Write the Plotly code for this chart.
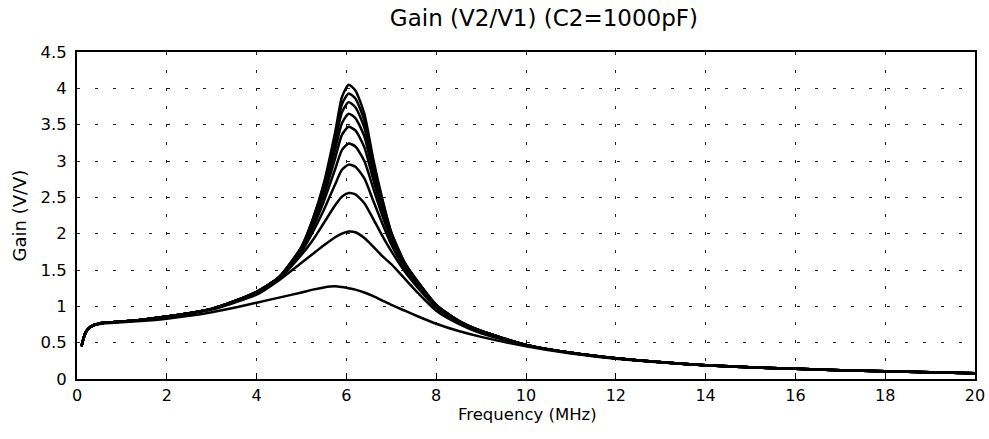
import plotly.graph_objects as go

freq = [0.1, 0.15, 0.2, 0.3, 0.5, 1, 1.5, 2, 2.5, 3, 3.5, 4, 4.5, 5, 5.25, 5.5, 5.75, 5.9,
        6.05, 6.2, 6.4, 6.6, 6.8, 7.0, 7.3, 7.6, 8, 8.5, 9, 10, 11, 12, 14, 16, 18, 20]

low_common = [0.45, 0.57, 0.65, 0.72, 0.765, 0.79, 0.82, 0.86, 0.905, 0.965]
tail_common = [0.47, 0.36, 0.285, 0.19, 0.14, 0.105, 0.08]

gain_127 = [0.45, 0.57, 0.65, 0.715, 0.755, 0.78, 0.80, 0.83, 0.87, 0.92,
            0.98, 1.05, 1.12, 1.19, 1.23, 1.26, 1.275, 1.265, 1.25, 1.23, 1.19, 1.14, 1.08, 1.02,
            0.94, 0.86, 0.76, 0.66, 0.58, 0.45, 0.35, 0.28, 0.19, 0.14, 0.105, 0.08]
gain_203 = [0.45, 0.57, 0.65, 0.72, 0.765, 0.79, 0.815, 0.855, 0.90, 0.955,
            1.05, 1.16, 1.36, 1.60, 1.72, 1.84, 1.95, 2.00, 2.03, 2.02, 1.94, 1.82, 1.69, 1.58,
            1.38, 1.18, 0.94, 0.76, 0.63, 0.465, 0.36, 0.285, 0.19, 0.14, 0.105, 0.08]
mid_256 = [1.06, 1.18, 1.38, 1.71, 1.91, 2.15, 2.39, 2.51, 2.56, 2.54, 2.42, 2.20, 1.97, 1.76, 1.48, 1.25, 0.98, 0.78, 0.64]
mid_295 = [1.06, 1.19, 1.39, 1.75, 2.02, 2.33, 2.68, 2.88, 2.95, 2.92, 2.76, 2.45, 2.14, 1.85, 1.52, 1.28, 0.99, 0.79, 0.65]
mid_324 = [1.06, 1.19, 1.39, 1.78, 2.08, 2.45, 2.89, 3.15, 3.24, 3.20, 3.00, 2.62, 2.25, 1.91, 1.55, 1.30, 1.00, 0.79, 0.65]
mid_347 = [1.07, 1.19, 1.40, 1.79, 2.12, 2.53, 3.04, 3.36, 3.47, 3.42, 3.19, 2.74, 2.32, 1.95, 1.57, 1.31, 1.01, 0.79, 0.66]
mid_365 = [1.07, 1.20, 1.40, 1.80, 2.15, 2.59, 3.16, 3.52, 3.65, 3.59, 3.34, 2.83, 2.38, 1.97, 1.58, 1.32, 1.01, 0.80, 0.66]
mid_381 = [1.07, 1.20, 1.40, 1.81, 2.17, 2.63, 3.26, 3.67, 3.81, 3.74, 3.46, 2.91, 2.42, 1.99, 1.59, 1.32, 1.02, 0.80, 0.66]
mid_393 = [1.07, 1.20, 1.40, 1.82, 2.19, 2.67, 3.33, 3.78, 3.93, 3.86, 3.56, 2.97, 2.45, 2.01, 1.59, 1.33, 1.02, 0.80, 0.66]
mid_405 = [1.07, 1.20, 1.40, 1.82, 2.20, 2.70, 3.40, 3.88, 4.05, 3.97, 3.65, 3.02, 2.48, 2.02, 1.60, 1.33, 1.02, 0.80, 0.66]

series = [gain_127, gain_203] + [low_common + m + tail_common for m in
                                 [mid_256, mid_295, mid_324, mid_347, mid_365, mid_381, mid_393, mid_405]]

x_ticks = [0, 2, 4, 6, 8, 10, 12, 14, 16, 18, 20]
y_ticks = [0, 0.5, 1, 1.5, 2, 2.5, 3, 3.5, 4, 4.5]
y_labels = ["0", "0.5", "1", "1.5", "2", "2.5", "3", "3.5", "4", "4.5"]

FONT = "DejaVu Sans, Arial, Helvetica, sans-serif"

fig = go.Figure()
for s in series:
    fig.add_trace(go.Scatter(x=freq, y=s, mode="lines",
                             line=dict(color="black", width=2.5, shape="spline", smoothing=0.6),
                             showlegend=False, hoverinfo="skip"))

fig.update_layout(
    width=989, height=439, autosize=False,
    margin=dict(l=77, r=14, t=52, b=60),
    paper_bgcolor="white", plot_bgcolor="white",
    font=dict(family=FONT, color="black", size=16),
    title=dict(text="Gain (V2/V1) (C2=1000pF)", x=0.52, xref="paper", xanchor="center",
               y=1 - 18 / 439, yref="container", yanchor="middle",
               font=dict(family=FONT, size=23, color="black")),
    xaxis=dict(range=[0, 20], tickvals=x_ticks, ticktext=[str(v) for v in x_ticks],
               showgrid=True, gridcolor="#222", gridwidth=1, griddash="3px,15px",
               showline=True, linecolor="black", linewidth=2, mirror=True,
               ticks="inside", ticklen=6, tickcolor="black", automargin=False,
               ticklabelstandoff=1, zeroline=False, tickfont=dict(size=16)),
    yaxis=dict(range=[0, 4.5], tickvals=y_ticks, ticktext=y_labels,
               showgrid=True, gridcolor="#222", gridwidth=1, griddash="3px,15px",
               showline=True, linecolor="black", linewidth=2, mirror=True, automargin=False,
               ticks="", ticklabelstandoff=5, zeroline=False, tickfont=dict(size=16.5)),
    annotations=[
        dict(text="Frequency (MHz)", xref="paper", yref="paper", x=0.502, y=-0.11,
             xanchor="center", yanchor="middle", showarrow=False,
             font=dict(family=FONT, size=16.5, color="black")),
        dict(text="Gain (V/V)", xref="paper", yref="paper", x=-0.0635, y=0.5,
             xanchor="center", yanchor="middle", showarrow=False, textangle=-90,
             font=dict(family=FONT, size=18, color="black")),
    ],
)

fig.write_html("out.html", config={"displayModeBar": False},
               post_script="document.body.style.margin='0px';")
